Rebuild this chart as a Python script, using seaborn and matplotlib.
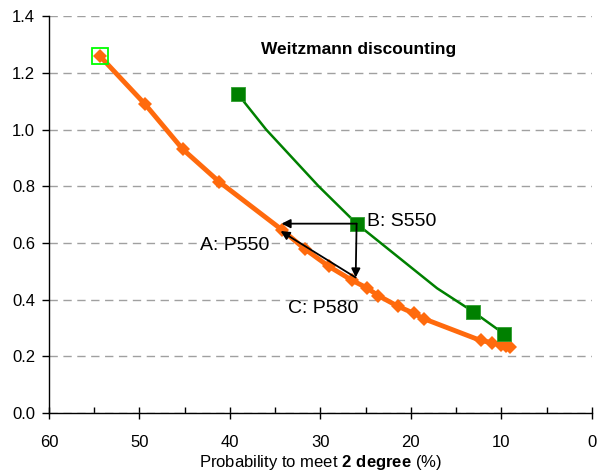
import numpy as np
import matplotlib
matplotlib.use("Agg")
import matplotlib.pyplot as plt
import seaborn as sns

# orange curve (P scenarios)
p_prob = [54.4, 49.4, 45.2, 41.2, 34.2, 31.7, 29.1, 26.5, 24.9, 23.6, 21.4, 19.7, 18.6, 12.3, 11.0, 10.0, 9.5, 9.0]
p_cost = [1.26, 1.09, 0.93, 0.816, 0.645, 0.578, 0.518, 0.468, 0.442, 0.414, 0.376, 0.352, 0.333, 0.256, 0.248, 0.240, 0.236, 0.233]

# green curve (S scenarios); only some points carry a marker
s_prob = [39.1, 36.0, 30.2, 26.0, 17.1, 13.1, 9.7]
s_cost = [1.124, 1.0, 0.80, 0.668, 0.44, 0.357, 0.279]
s_marked = [True, False, False, True, False, True, True]

labels = ["A: P550", "B: S550", "C: P580"]
label_x = [43.3, 24.8, 33.6]
label_y = [0.592, 0.676, 0.369]

sns.set_style("white")
plt.rcParams["font.family"] = ["Liberation Sans", "DejaVu Sans"]
plt.rcParams["mathtext.fontset"] = "custom"
plt.rcParams["mathtext.bf"] = "Liberation Sans:bold"
plt.rcParams["mathtext.rm"] = "Liberation Sans"
plt.rcParams["text.color"] = "black"
plt.rcParams["axes.labelcolor"] = "black"
plt.rcParams["xtick.color"] = "black"
plt.rcParams["ytick.color"] = "black"

fig = plt.figure(figsize=(5.99, 4.75), dpi=100)
ax = fig.add_axes([0.0818, 0.1305, 0.9062, 0.8355])

orange = "#FF6A0D"
green = "#008000"

sns.lineplot(x=p_prob, y=p_cost, ax=ax, color=orange, lw=3.5, marker="D",
             markersize=7, markeredgewidth=0, sort=False, estimator=None, zorder=4)
# highlight of first point
ax.plot(p_prob[0], p_cost[0], marker="s", markersize=11, mfc="none",
        mec="#00FF00", mew=1.3, zorder=5)

sns.lineplot(x=s_prob, y=s_cost, ax=ax, color=green, lw=1.8, sort=False,
             estimator=None, zorder=3)
mx = [x for x, m in zip(s_prob, s_marked) if m]
my = [y for y, m in zip(s_cost, s_marked) if m]
sns.scatterplot(x=mx, y=my, ax=ax, color=green, marker="s", s=95,
                linewidth=0.6, edgecolor="#2E9E2E", zorder=4)

# arrows B -> A, B -> C, C -> A
b = (s_prob[3], s_cost[3])
a = (34.3, 0.668)
c = (26.1, 0.478)
a2 = (34.4, 0.642)
arr = dict(arrowstyle="-|>", color="black", lw=1.3, mutation_scale=13,
           shrinkA=0, shrinkB=0)
ax.annotate("", xy=a, xytext=b, arrowprops=arr, zorder=6)
ax.annotate("", xy=c, xytext=b, arrowprops=arr, zorder=6)
ax.annotate("", xy=a2, xytext=c, arrowprops=arr, zorder=6)

for t, x, y in zip(labels, label_x, label_y):
    ax.text(x, y, t, fontsize=14, ha="left", va="center", zorder=7)

ax.text(0.570, 0.915, "Weitzmann discounting", transform=ax.transAxes,
        fontsize=12.5, fontweight="bold", ha="center", va="center")

# title mostly above the top edge, as in the source picture
fig.text(0.654, 1.011, "(% GDP)", fontsize=16, fontweight="bold",
         ha="center", va="baseline")

ax.set_xlim(60, 0)
ax.set_ylim(0, 1.4)
ax.set_xticks(np.arange(60, -1, -10))
ax.set_xticks(np.arange(55, 0, -10), minor=True)
ax.set_yticks(np.arange(0, 1.41, 0.2))
ax.set_yticklabels([f"{v:.1f}" for v in np.arange(0, 1.41, 0.2)])
ax.yaxis.grid(True, color="#A0A0A0", linestyle=(0, (6, 4)), lw=1)
ax.set_axisbelow(True)

for s in ["top", "right"]:
    ax.spines[s].set_visible(False)
for s in ["left", "bottom"]:
    ax.spines[s].set_color("black")
    ax.spines[s].set_linewidth(1)

ax.tick_params(axis="y", which="major", direction="out", length=5, width=1,
               left=True, labelsize=12, pad=5)
ax.tick_params(axis="x", which="major", direction="inout", length=8, width=1,
               bottom=True, labelsize=12, pad=12)
ax.tick_params(axis="x", which="minor", direction="in", length=4, width=1,
               bottom=True)

ax.set_xlabel(r"Probability to meet $\bf{2\ degree}$ (%)", fontsize=12,
              labelpad=2)
ax.set_ylabel("")

fig.savefig("out.png", dpi=100)
